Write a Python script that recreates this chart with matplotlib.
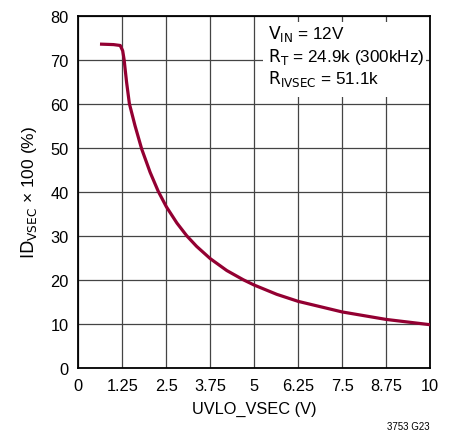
import matplotlib
matplotlib.use("Agg")
import matplotlib.pyplot as plt
from matplotlib.patches import Rectangle

plt.rcParams['font.family'] = ['Liberation Sans Narrow', 'Liberation Sans', 'DejaVu Sans']
plt.rcParams['mathtext.fontset'] = 'custom'
plt.rcParams['mathtext.rm'] = 'Liberation Sans Narrow'
plt.rcParams['mathtext.it'] = 'Liberation Sans Narrow'

# values
uvlo_v = [0.66, 1.0, 1.19, 1.26, 1.30, 1.37, 1.45, 1.61, 1.80, 2.04, 2.27, 2.5,
          2.8, 3.08, 3.36, 3.75, 4.22, 4.69, 5.0, 5.64, 6.25, 7.5, 8.75, 10.0]
id_pct = [73.5, 73.4, 73.2, 72.0, 70.0, 64.9, 60.0, 55.0, 49.7, 44.4, 40.1, 36.6,
          32.9, 30.0, 27.6, 24.8, 22.1, 20.0, 18.8, 16.7, 15.1, 12.7, 11.0, 9.8]

xticks = [0, 1.25, 2.5, 3.75, 5, 6.25, 7.5, 8.75, 10]
xtick_labels = ["0", "1.25", "2.5", "3.75", "5", "6.25", "7.5", "8.75", "10"]
yticks = [0, 10, 20, 30, 40, 50, 60, 70, 80]

fig = plt.figure(figsize=(4.61, 4.35), dpi=100)
ax = fig.add_axes([0.170, 0.152, 0.763, 0.810])

ax.plot(uvlo_v, id_pct, color='#930032', lw=2.3, solid_joinstyle='round', zorder=3)

ax.set_xlim(0, 10)
ax.set_ylim(0, 80)
ax.set_xticks(xticks)
ax.set_xticklabels(xtick_labels)
ax.set_yticks(yticks)
ax.tick_params(length=0, labelsize=11.8, pad=7)
ax.grid(True, color='#444444', lw=0.9)
ax.set_axisbelow(True)
for s in ax.spines.values():
    s.set_linewidth(1.3)

# white box behind the conditions text
ax.add_patch(Rectangle((0.525, 0.769), 0.463, 0.213, transform=ax.transAxes,
                       facecolor='white', edgecolor='none', zorder=1))
ax.text(0.540, 0.935, r"$\mathrm{V_{IN}}$ = 12V", transform=ax.transAxes,
        fontsize=12.3, va='baseline', zorder=4)
ax.text(0.540, 0.872, r"$\mathrm{R_{T}}$ = 24.9k (300kHz)", transform=ax.transAxes,
        fontsize=12.3, va='baseline', zorder=4)
ax.text(0.540, 0.809, r"$\mathrm{R_{IVSEC}}$ = 51.1k", transform=ax.transAxes,
        fontsize=12.3, va='baseline', zorder=4)

ax.set_xlabel("UVLO_VSEC (V)", fontsize=11.8, labelpad=6)
ax.set_ylabel(r"$\mathrm{ID_{VSEC}}$ × 100 (%)", fontsize=12.5, labelpad=8)

fig.text(0.933, 0.008, "3753 G23", fontsize=7, ha='right', va='bottom')

fig.savefig("out.png", dpi=100)
